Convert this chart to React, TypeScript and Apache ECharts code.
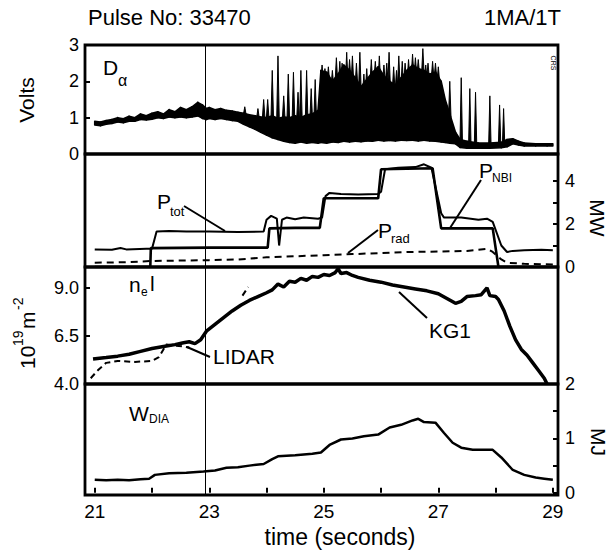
import React, { useEffect, useRef } from "react";
import * as echarts from "echarts";

// ---------- axes ----------
const X_MIN = 20.83;
const X_MAX = 29.09;
const refTime = 22.93;
const xTickValues = [21, 22, 23, 24, 25, 26, 27, 28, 29];
const xLabelValues = [21, 23, 25, 27, 29];
const voltsTicks = [0, 1, 2, 3];
const mwTicks = [0, 1, 2, 3, 4];
const mwLabels = [0, 2, 4];
const neTicks = [4.0, 6.5, 9.0];
const mjTicks = [0, 0.5, 1, 1.5, 2];
const mjLabels = [0, 1, 2];

// ---------- D-alpha (Volts) ----------
const daTime = [21.0, 21.1, 21.2, 21.3, 21.4, 21.5, 21.6, 21.7, 21.8, 21.9, 22.0, 22.1, 22.2, 22.3, 22.4, 22.5, 22.6, 22.7, 22.8, 22.88, 22.95, 23.0, 23.1, 23.2, 23.3, 23.4, 23.5, 23.6, 23.7, 23.8, 23.9, 24.0, 24.1, 24.2, 24.3, 24.4, 24.5, 24.6, 24.7, 24.8, 24.9, 24.95, 25.05, 25.15, 25.25, 25.35, 25.45, 25.55, 25.65, 25.75, 25.85, 25.95, 26.05, 26.15, 26.25, 26.35, 26.45, 26.55, 26.65, 26.75, 26.85, 26.95, 27.05, 27.12, 27.2, 27.3, 27.38, 27.5, 27.7, 27.9, 28.1, 28.2, 28.3, 28.4, 28.5, 28.7, 28.9, 29.0];
const daLow = [0.80, 0.78, 0.82, 0.84, 0.88, 0.86, 0.90, 0.90, 0.95, 0.94, 0.96, 1.00, 0.98, 1.02, 1.00, 1.02, 1.00, 1.02, 1.05, 0.98, 0.95, 0.98, 0.95, 0.98, 0.95, 0.92, 0.90, 0.82, 0.75, 0.68, 0.60, 0.52, 0.45, 0.40, 0.35, 0.32, 0.30, 0.33, 0.30, 0.32, 0.30, 0.32, 0.30, 0.33, 0.32, 0.35, 0.33, 0.35, 0.34, 0.36, 0.35, 0.38, 0.36, 0.37, 0.36, 0.38, 0.37, 0.38, 0.36, 0.38, 0.36, 0.35, 0.33, 0.32, 0.30, 0.28, 0.18, 0.16, 0.16, 0.16, 0.17, 0.20, 0.28, 0.25, 0.22, 0.22, 0.22, 0.22];
const daHigh = [0.90, 0.88, 0.92, 0.95, 1.00, 0.97, 1.04, 1.00, 1.10, 1.05, 1.12, 1.16, 1.10, 1.22, 1.16, 1.28, 1.22, 1.30, 1.42, 1.35, 1.25, 1.28, 1.22, 1.25, 1.20, 1.18, 1.15, 1.12, 1.08, 1.05, 1.02, 1.00, 1.05, 0.98, 1.02, 1.00, 1.05, 1.00, 1.08, 1.10, 1.20, 2.30, 2.25, 2.00, 2.20, 2.45, 2.30, 2.10, 1.85, 2.05, 2.25, 2.40, 2.15, 2.00, 1.90, 2.10, 2.30, 2.45, 2.35, 2.30, 2.20, 2.25, 2.00, 1.50, 1.10, 0.60, 0.40, 0.35, 0.30, 0.30, 0.32, 0.40, 0.42, 0.35, 0.30, 0.28, 0.28, 0.28];
// ELM spikes: [time, base, peak]
const daSpikes = [
  [23.62, 1.1, 1.3], [23.85, 1.0, 1.25], [23.95, 1.0, 1.5], [24.02, 1.0, 1.5], [24.1, 1.0, 2.3], [24.2, 1.0, 2.7],
  [24.3, 1.0, 1.6], [24.38, 1.0, 2.2], [24.47, 1.0, 2.25], [24.55, 1.0, 1.7], [24.6, 1.0, 2.3], [24.7, 1.0, 2.3],
  [24.78, 1.0, 1.8], [24.85, 1.0, 2.05], [24.97, 2.0, 2.45], [25.02, 2.0, 2.35], [25.08, 2.0, 2.4], [25.15, 1.9, 2.3],
  [25.22, 2.0, 2.65], [25.28, 2.0, 2.55], [25.32, 2.0, 2.5], [25.4, 2.0, 2.8], [25.45, 2.1, 2.6], [25.5, 2.0, 2.7],
  [25.57, 1.9, 2.5], [25.63, 1.8, 2.8], [25.7, 1.7, 2.2], [25.75, 1.8, 2.35], [25.83, 2.0, 2.6], [25.9, 2.1, 2.55],
  [25.97, 2.0, 2.7], [26.05, 2.0, 2.45], [26.1, 2.0, 2.5], [26.14, 1.9, 2.8], [26.22, 1.8, 2.4], [26.27, 1.8, 2.3],
  [26.31, 1.9, 2.7], [26.37, 1.9, 2.55], [26.42, 2.0, 2.5], [26.48, 2.1, 2.6], [26.55, 2.2, 2.75], [26.6, 2.2, 2.65],
  [26.65, 2.2, 2.6], [26.73, 2.2, 2.9], [26.78, 2.1, 2.45], [26.82, 2.1, 2.5], [26.9, 2.1, 2.55], [26.95, 2.1, 2.5],
  [27.0, 2.0, 2.4], [27.2, 1.0, 2.0], [27.4, 0.3, 2.1], [27.55, 0.2, 1.8], [27.65, 0.2, 1.7], [27.9, 0.2, 1.6],
  [28.07, 0.2, 1.35], [28.14, 0.2, 1.25],
];

// ---------- Power (MW) ----------
const pTot = [[21.0, 0.82], [21.3, 0.80], [21.45, 0.88], [21.55, 0.82], [21.9, 0.85], [22.0, 0.85], [22.08, 1.65], [22.3, 1.68], [22.6, 1.65], [23.0, 1.65], [23.5, 1.63], [23.95, 1.65], [24.0, 2.2], [24.08, 2.38], [24.18, 2.25], [24.22, 1.0], [24.27, 2.2], [24.35, 2.3], [24.5, 2.22], [24.65, 2.3], [24.9, 2.25], [24.97, 2.3], [25.03, 3.3], [25.1, 3.45], [25.3, 3.4], [25.6, 3.38], [25.95, 3.4], [26.0, 3.5], [26.07, 4.55], [26.3, 4.62], [26.6, 4.65], [26.75, 4.78], [26.88, 4.62], [27.05, 2.5], [27.1, 2.3], [27.4, 2.3], [27.7, 2.2], [27.85, 2.25], [27.95, 2.1], [28.1, 1.0], [28.2, 0.7], [28.3, 0.75], [28.5, 0.78], [28.8, 0.8], [29.0, 0.78]];
const pNbi = [[21.0, 0], [21.97, 0], [21.98, 0.88], [23.0, 0.9], [24.02, 0.9], [24.05, 1.8], [24.5, 1.82], [24.93, 1.82], [25.0, 3.2], [25.95, 3.2], [26.0, 4.55], [26.9, 4.6], [27.05, 1.8], [27.95, 1.8], [28.05, 0.0], [29.0, 0]];
const pRad = [[21.0, 0.2], [21.5, 0.22], [22.0, 0.28], [22.5, 0.3], [23.0, 0.32], [23.5, 0.35], [24.0, 0.45], [24.5, 0.5], [25.0, 0.55], [25.5, 0.6], [26.0, 0.65], [26.5, 0.7], [27.0, 0.72], [27.5, 0.75], [27.85, 0.85], [27.95, 0.7], [28.1, 0.35], [28.2, 0.2], [28.5, 0.15], [29.0, 0.12]];

// ---------- line density (1e19 m^-2) ----------
const kg1 = [[20.97, 5.3], [21.2, 5.38], [21.4, 5.45], [21.6, 5.55], [21.8, 5.7], [22.0, 5.85], [22.2, 5.95], [22.4, 6.05], [22.55, 6.15], [22.65, 6.2], [22.75, 6.1], [22.85, 6.3], [22.95, 6.75], [23.1, 7.1], [23.25, 7.45], [23.4, 7.8], [23.55, 8.1], [23.7, 8.35], [23.85, 8.55], [24.0, 8.75], [24.1, 8.9], [24.2, 9.2], [24.3, 9.05], [24.4, 9.35], [24.5, 9.3], [24.6, 9.5], [24.7, 9.4], [24.8, 9.6], [24.9, 9.55], [25.0, 9.7], [25.1, 9.65], [25.2, 9.8], [25.25, 10.0], [25.3, 9.75], [25.4, 9.8], [25.5, 9.65], [25.6, 9.55], [25.8, 9.4], [26.0, 9.3], [26.2, 9.15], [26.4, 9.05], [26.6, 8.95], [26.8, 8.85], [27.0, 8.7], [27.15, 8.45], [27.3, 8.2], [27.4, 8.3], [27.5, 8.55], [27.65, 8.6], [27.75, 8.65], [27.85, 9.0], [27.9, 8.6], [28.0, 8.55], [28.05, 8.4], [28.15, 7.8], [28.25, 7.0], [28.35, 6.3], [28.45, 5.8], [28.55, 5.5], [28.65, 5.1], [28.75, 4.7], [28.85, 4.3], [28.9, 4.0]];
const lidarA = [[20.93, 4.3], [21.05, 4.7], [21.2, 5.1], [21.4, 5.2], [21.7, 5.15], [22.0, 5.2], [22.12, 5.4], [22.25, 6.05], [22.4, 6.0], [22.55, 5.95], [22.65, 5.9]];
const lidarB = [[23.58, 8.6], [23.68, 9.05]];

// ---------- diamagnetic energy (MJ) ----------
const wdia = [[21.0, 0.24], [21.2, 0.23], [21.4, 0.24], [21.6, 0.23], [21.8, 0.25], [21.95, 0.26], [22.05, 0.33], [22.3, 0.36], [22.6, 0.37], [22.9, 0.39], [23.1, 0.41], [23.3, 0.46], [23.5, 0.47], [23.7, 0.5], [23.95, 0.53], [24.1, 0.62], [24.2, 0.67], [24.5, 0.69], [24.8, 0.72], [24.95, 0.74], [25.1, 0.88], [25.3, 0.98], [25.5, 1.0], [25.7, 1.04], [25.95, 1.07], [26.15, 1.2], [26.35, 1.25], [26.55, 1.33], [26.65, 1.36], [26.75, 1.3], [26.95, 1.29], [27.1, 1.1], [27.25, 0.92], [27.4, 0.83], [27.6, 0.79], [27.95, 0.79], [28.1, 0.65], [28.3, 0.42], [28.5, 0.33], [28.7, 0.28], [28.85, 0.26], [29.0, 0.24]];

const FONT = "'Liberation Sans', Arial, Helvetica, sans-serif";
const INK = "#000";

const refLine = {
  silent: true,
  symbol: "none",
  label: { show: false },
  lineStyle: { color: INK, width: 1, type: "solid" },
  data: [{ xAxis: refTime }],
};

function xAxisFor(gridIndex: number, showLabels: boolean) {
  return {
    type: "value",
    gridIndex,
    min: X_MIN,
    max: X_MAX,
    axisLine: { show: false },
    splitLine: { show: false },
    axisTick: {
      show: showLabels,
      inside: true,
      length: 5,
      customValues: xTickValues,
      lineStyle: { color: INK, width: 2 },
    },
    axisLabel: {
      show: showLabels,
      customValues: xLabelValues,
      color: INK,
      fontFamily: FONT,
      fontSize: 19,
      margin: 7,
    },
  };
}

function yAxisFor(gridIndex: number, position: string, min: number, max: number, ticks: number[], labels: number[], digits: number) {
  return {
    type: "value",
    gridIndex,
    position,
    min,
    max,
    axisLine: { show: false },
    splitLine: { show: false },
    axisTick: {
      show: true,
      inside: true,
      length: 5,
      customValues: ticks,
      lineStyle: { color: INK, width: 2 },
    },
    axisLabel: {
      show: true,
      customValues: labels,
      color: INK,
      fontFamily: FONT,
      fontSize: 18,
      margin: position === "left" ? 6 : 7,
      formatter: (v: number) => v.toFixed(digits),
    },
  };
}

function txt(x: number, y: number, text: string, size: number, align = "left", extra: any = {}) {
  return {
    type: "text",
    x,
    y,
    silent: true,
    style: { text, fill: INK, font: `${size}px ${FONT}`, textAlign: align, textVerticalAlign: "middle" },
    ...extra,
  };
}

function pointer(x1: number, y1: number, x2: number, y2: number) {
  return { type: "line", silent: true, shape: { x1, y1, x2, y2 }, style: { stroke: INK, lineWidth: 2 } };
}

export default function App() {
  const ref = useRef<HTMLDivElement>(null);

  useEffect(() => {
    if (!ref.current) return;
    const chart = echarts.init(ref.current, undefined, { renderer: "svg" });

    const gridBase = { left: 85, width: 473, show: true, borderColor: INK, borderWidth: 2.8, backgroundColor: "transparent" };

    const option: any = {
      animation: false,
      backgroundColor: "#fff",
      grid: [
        { ...gridBase, top: 45, height: 109 },
        { ...gridBase, top: 154, height: 113 },
        { ...gridBase, top: 267, height: 117 },
        { ...gridBase, top: 384, height: 111 },
      ],
      xAxis: [xAxisFor(0, false), xAxisFor(1, false), xAxisFor(2, false), xAxisFor(3, true)],
      yAxis: [
        yAxisFor(0, "left", 0, 3, voltsTicks, voltsTicks, 0),
        yAxisFor(1, "right", 0, 5.26, mwTicks, mwLabels, 0),
        yAxisFor(2, "left", 4.0, 10.09, neTicks, neTicks, 1),
        yAxisFor(3, "right", -0.04, 2.0, mjTicks, mjLabels, 0),
      ],
      series: [
        {
          name: "Dalpha band",
          type: "custom",
          xAxisIndex: 0,
          yAxisIndex: 0,
          data: daTime.slice(0, -1).map((t, i) => [t, daLow[i], daHigh[i]]),
          encode: { x: 0, y: 2 },
          renderItem: (params: any, api: any) => {
            const i = params.dataIndex;
            const pts = [
              api.coord([daTime[i], daLow[i]]),
              api.coord([daTime[i + 1], daLow[i + 1]]),
              api.coord([daTime[i + 1], daHigh[i + 1]]),
              api.coord([daTime[i], daHigh[i]]),
            ];
            return {
              type: "polygon",
              shape: { points: pts },
              style: { fill: INK, stroke: INK, lineWidth: 1.6, lineJoin: "round" },
            };
          },
          markLine: refLine,
          z: 3,
        },
        {
          name: "Dalpha spikes",
          type: "custom",
          xAxisIndex: 0,
          yAxisIndex: 0,
          data: daSpikes,
          encode: { x: 0, y: 2 },
          renderItem: (_p: any, api: any) => {
            const t = api.value(0);
            const b = api.value(1);
            const p = api.value(2);
            const a = api.coord([t - 0.022, b]);
            const c = api.coord([t, p]);
            const d = api.coord([t + 0.022, b]);
            return {
              type: "polygon",
              shape: { points: [a, c, d] },
              style: { fill: INK, stroke: INK, lineWidth: 1 },
            };
          },
          z: 4,
        },
        {
          name: "Ptot",
          type: "line",
          xAxisIndex: 1,
          yAxisIndex: 1,
          symbol: "none",
          data: pTot,
          lineStyle: { color: INK, width: 2 },
          markLine: refLine,
        },
        {
          name: "PNBI",
          type: "line",
          xAxisIndex: 1,
          yAxisIndex: 1,
          symbol: "none",
          data: pNbi,
          lineStyle: { color: INK, width: 2.6 },
        },
        {
          name: "Prad",
          type: "line",
          xAxisIndex: 1,
          yAxisIndex: 1,
          symbol: "none",
          data: pRad,
          lineStyle: { color: INK, width: 2, type: [7, 5] },
        },
        {
          name: "KG1",
          type: "line",
          xAxisIndex: 2,
          yAxisIndex: 2,
          symbol: "none",
          data: kg1,
          lineStyle: { color: INK, width: 3.5 },
          markLine: refLine,
        },
        {
          name: "LIDAR a",
          type: "line",
          xAxisIndex: 2,
          yAxisIndex: 2,
          symbol: "none",
          data: lidarA,
          lineStyle: { color: INK, width: 2, type: [6, 4] },
        },
        {
          name: "LIDAR b",
          type: "line",
          xAxisIndex: 2,
          yAxisIndex: 2,
          symbol: "none",
          data: lidarB,
          lineStyle: { color: INK, width: 2, type: [6, 4] },
        },
        {
          name: "WDIA",
          type: "line",
          xAxisIndex: 3,
          yAxisIndex: 3,
          symbol: "none",
          data: wdia,
          lineStyle: { color: INK, width: 2.5 },
          markLine: refLine,
        },
      ],
      graphic: [
        txt(88, 17, "Pulse No: 33470", 22),
        txt(561, 17, "1MA/1T", 22, "right"),
        txt(26, 100, "Volts", 21, "center", { rotation: Math.PI / 2 }),
        txt(597, 218, "MW", 21, "center", { rotation: -Math.PI / 2 }),
        txt(598, 442, "MJ", 21, "center", { rotation: -Math.PI / 2 }),
        txt(553, 63, "CRS", 7, "center", { rotation: -Math.PI / 2 }),
        {
          type: "group",
          x: 27,
          y: 328,
          rotation: Math.PI / 2,
          children: [
            txt(-41, 0, "10", 21),
            txt(-18, -9, "19", 14),
            txt(-1, 0, "m", 21),
            txt(18, -9, "-2", 14),
          ],
        },
        txt(103, 67, "D", 21),
        txt(118, 80, "\u03b1", 16),
        txt(157, 201, "P", 21),
        txt(170, 211, "tot", 13),
        pointer(184, 206, 225, 231),
        txt(479, 170, "P", 21),
        txt(492, 178, "NBI", 12),
        pointer(481, 180, 450, 228),
        txt(378, 230, "P", 21),
        txt(391, 238, "rad", 13),
        pointer(378, 230, 348, 253),
        txt(129, 284, "n", 21),
        txt(141, 292, "e", 12),
        txt(150, 283, "l", 21),
        txt(429, 330, "KG1", 21),
        pointer(427, 318, 399, 292),
        txt(213, 356, "LIDAR", 21),
        pointer(210, 357, 187, 347),
        txt(129, 413, "W", 21),
        txt(149, 419, "DIA", 12),
        txt(340, 537, "time (seconds)", 23, "center"),
      ],
    };

    chart.setOption(option);
    return () => chart.dispose();
  }, []);

  return (
    <div
      ref={ref}
      style={{ position: "fixed", left: 0, top: 0, width: 615, height: 555, background: "#fff" }}
    />
  );
}
